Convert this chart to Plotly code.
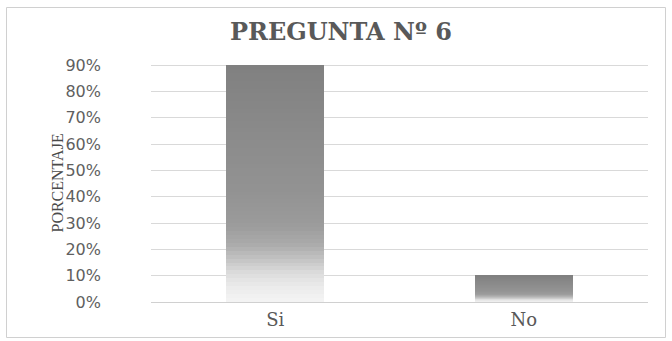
import plotly.graph_objects as go

# Survey results for question 6
categories = ["Si", "No"]
percentages = [0.90, 0.10]
title_text = "PREGUNTA Nº 6"
y_title = "PORCENTAJE"

# Vertical shading of each bar: (fraction of bar height, grey level)
shade_stops = [(0.0, 244), (0.06, 236), (0.12, 220), (0.18, 196), (0.24, 172),
               (0.32, 156), (0.45, 147), (0.70, 139), (1.0, 128)]
n_bands = 60

W, H = 672, 341
M_L, M_R, M_T, M_B = 151, 24, 60, 39


def grey_at(t):
    for (t0, g0), (t1, g1) in zip(shade_stops[:-1], shade_stops[1:]):
        if t0 <= t <= t1:
            g = int(round(g0 + (g1 - g0) * (t - t0) / (t1 - t0)))
            return f"rgb({g},{g},{g})"
    g = shade_stops[-1][1]
    return f"rgb({g},{g},{g})"


fig = go.Figure()
# Each bar is built as a stack of thin bands so it can fade from light to dark
for k in range(n_bands):
    t = (k + 0.5) / n_bands
    fig.add_trace(go.Bar(
        x=categories,
        y=[v / n_bands for v in percentages],
        marker=dict(color=grey_at(t), line=dict(width=0)),
        width=0.394,
        hoverinfo="skip",
        showlegend=False,
    ))

plot_w = W - M_L - M_R
plot_h = H - M_T - M_B

fig.update_layout(
    width=W,
    height=H,
    barmode="stack",
    paper_bgcolor="white",
    plot_bgcolor="white",
    margin=dict(l=M_L, r=M_R, t=M_T, b=M_B),
    title=dict(
        text=f"<b>{title_text}</b>",
        font=dict(family="DejaVu Serif", size=24, color="#595959"),
        x=341 / W, xanchor="center", xref="container",
        y=1 - 32 / H, yanchor="middle", yref="container",
    ),
    xaxis=dict(
        showgrid=False,
        showline=False,
        ticks="",
        tickfont=dict(family="DejaVu Serif", size=18, color="#595959"),
        ticklabelstandoff=5,
    ),
    yaxis=dict(
        range=[0, 0.92],
        tickvals=[i / 10 for i in range(10)],
        tickformat=".0%",
        showgrid=True,
        gridcolor="#d9d9d9",
        gridwidth=1,
        zeroline=True,
        zerolinecolor="#d0d0d0",
        zerolinewidth=1,
        showline=False,
        ticks="",
        tickfont=dict(family="DejaVu Sans", size=16, color="#5f5f5f"),
        ticklabelstandoff=49,
    ),
    annotations=[dict(
        text=y_title,
        textangle=-90,
        x=(57 - M_L) / plot_w, xref="paper", xanchor="center",
        y=(H - M_B - 183.5) / plot_h, yref="paper", yanchor="middle",
        showarrow=False,
        font=dict(family="Liberation Serif", size=16, color="#4a4a4a"),
    )],
    # Thin light frame around the whole chart
    shapes=[dict(
        type="rect", xref="paper", yref="paper",
        x0=(6.5 - M_L) / plot_w, x1=(665.5 - M_L) / plot_w,
        y0=(H - M_B - 337.5) / plot_h, y1=(H - M_B - 7.5) / plot_h,
        line=dict(color="#d0d0d0", width=1),
        fillcolor="rgba(0,0,0,0)",
        layer="below",
    )],
)

fig.write_html("out.html")
